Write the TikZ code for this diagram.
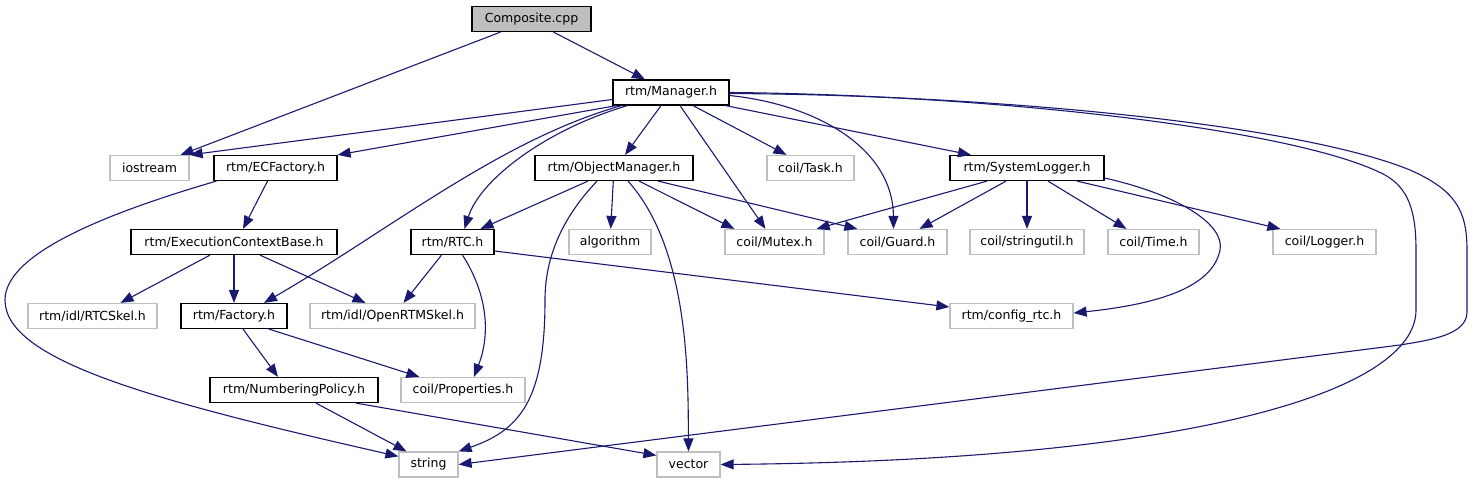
\documentclass[tikz,border=0pt]{standalone}
\usepackage{fontspec}
\setmainfont{DejaVu Sans}
\usetikzlibrary{arrows.meta}
\definecolor{incblue}{HTML}{191970}
\definecolor{extgray}{HTML}{BFBFBF}

\begin{document}
\begin{tikzpicture}[x=1pt,y=-1pt,
	file/.style={draw=black,line width=1.2pt,minimum height=25pt,inner sep=0pt,font=\fontsize{12.5}{14}\selectfont},
	ext/.style={file,draw=extgray},
	inc/.style={draw=incblue,line width=1.1pt,-{Triangle[length=13pt,width=10pt]}}]
	\useasboundingbox (0,0) rectangle (1473,485);
	\node[file,fill=extgray,minimum width=119pt] (comp) at (531.5,19) {Composite.cpp};
	\node[file,minimum width=116pt] (mgr) at (671,92.5) {rtm/Manager.h};
	\node[ext,minimum width=79pt] (ios) at (149.5,168) {iostream};
	\node[file,minimum width=123pt] (ecf) at (275.5,168) {rtm/ECFactory.h};
	\node[file,minimum width=158pt] (objm) at (614,168) {rtm/ObjectManager.h};
	\node[ext,minimum width=87pt] (task) at (810.5,168) {coil/Task.h};
	\node[file,minimum width=154pt] (slog) at (1027,168) {rtm/SystemLogger.h};
	\node[file,minimum width=206pt] (ecb) at (234,242) {rtm/ExecutionContextBase.h};
	\node[file,minimum width=83pt] (rtc) at (452.5,242) {rtm/RTC.h};
	\node[ext,minimum width=82pt] (algo) at (610,242) {algorithm};
	\node[ext,minimum width=99pt] (mutex) at (774.5,242) {coil/Mutex.h};
	\node[ext,minimum width=99pt] (guard) at (897.5,242) {coil/Guard.h};
	\node[ext,minimum width=114pt] (sutil) at (1027,242) {coil/stringutil.h};
	\node[ext,minimum width=91pt] (time) at (1153.5,242) {coil/Time.h};
	\node[ext,minimum width=103pt] (logger) at (1324.5,242) {coil/Logger.h};
	\node[ext,minimum width=129pt] (rtcskel) at (92.5,316) {rtm/idl/RTCSkel.h};
	\node[file,minimum width=106pt] (fact) at (234,316) {rtm/Factory.h};
	\node[ext,minimum width=165pt] (ortm) at (392.5,316) {rtm/idl/OpenRTMSkel.h};
	\node[ext,minimum width=123pt] (cfg) at (1011.5,316) {rtm/config\_rtc.h};
	\node[file,minimum width=168pt] (npol) at (294,390) {rtm/NumberingPolicy.h};
	\node[ext,minimum width=124pt] (props) at (463,390) {coil/Properties.h};
	\node[ext,minimum width=59pt] (str) at (428.5,464.5) {string};
	\node[ext,minimum width=63pt] (vec) at (688.5,464.5) {vector};
	\draw[inc] ([xshift=-31pt]comp.south) -- ([xshift=-9pt]ios.north east);
	\draw[inc] ([xshift=22pt]comp.south) -- ([xshift=-26pt]mgr.north);
	\draw[inc] ([yshift=-7pt]mgr.west) -- (ios.north east);
	\draw[inc] ([xshift=4pt]mgr.south west) -- (ecf.north east);
	\draw[inc] ([xshift=-10pt]mgr.south) -- ([xshift=11pt]objm.north);
	\draw[inc] ([xshift=22pt]mgr.south) -- ([xshift=-24pt]task.north);
	\draw[inc] ([xshift=-4pt]mgr.south east) -- ([xshift=-56pt]slog.north);
	\draw[inc] ([xshift=15pt]mgr.south west) .. controls (545,130) and (480,180) .. ([xshift=12pt]rtc.north);
	\draw[inc] ([xshift=9pt]mgr.south west) .. controls (500,140) and (390,230) .. ([xshift=30pt]fact.north);
	\draw[inc] ([xshift=9pt]mgr.south) -- ([xshift=-9pt]mutex.north);
	\draw[inc] ([yshift=-3pt]mgr.east) .. controls (820,105) and (893,150) .. ([xshift=-4pt]guard.north);
	\draw[inc] ([yshift=-1pt]mgr.east) .. controls (1000,95) and (1300,125) .. (1410,170) .. controls (1455,190) and (1467,210) .. (1467,250) -- (1467,312) .. controls (1467,335) and (1430,340) .. (1400,345) -- (str.east);
	\draw[inc] (mgr.east) .. controls (1000,95) and (1300,130) .. (1385,175) .. controls (1408,188) and (1416,210) .. (1416,250) -- (1416,310) .. controls (1416,390) and (1200,460) .. (vec.east);
	\draw[inc] ([xshift=-26pt]objm.south) -- ([xshift=28pt]rtc.north);
	\draw[inc] (objm) -- (algo);
	\draw[inc] ([xshift=25pt]objm.south) -- ([xshift=10pt]mutex.north west);
	\draw[inc] ([xshift=44pt]objm.south) -- ([xshift=10pt]guard.north west);
	\draw[inc] ([xshift=-17pt]objm.south) .. controls (560,220) and (545,260) .. (545,300) .. controls (545,400) and (520,430) .. (str.north east);
	\draw[inc] ([xshift=14pt]objm.south) .. controls (690,250) and (688,380) .. (vec.north);
	\draw[inc] ([xshift=3pt]ecf.south west) .. controls (100,215) and (5,255) .. (5,300) .. controls (5,360) and (150,400) .. ([yshift=-5pt]str.north west);
	\draw[inc] ([xshift=-8pt]ecf.south) -- ([xshift=9pt]ecb.north);
	\draw[inc] ([xshift=-24pt]ecb.south) -- ([xshift=28pt]rtcskel.north);
	\draw[inc] (ecb) -- (fact);
	\draw[inc] ([xshift=26pt]ecb.south) -- ([xshift=-27pt]ortm.north);
	\draw[inc] ([xshift=-11pt]rtc.south) -- ([xshift=11pt]ortm.north);
	\draw[inc] ([xshift=10pt]rtc.south) .. controls (485,290) and (492,330) .. ([xshift=11pt]props.north);
	\draw[inc] ([yshift=-9pt]rtc.east) -- ([yshift=9pt]cfg.west);
	\draw[inc] ([xshift=-40pt]slog.south) -- ([xshift=-8pt]mutex.north east);
	\draw[inc] ([xshift=-21pt]slog.south) -- ([xshift=22pt]guard.north);
	\draw[inc] (slog) -- (sutil);
	\draw[inc] ([xshift=21pt]slog.south) -- ([xshift=-27pt]time.north);
	\draw[inc] ([xshift=50pt]slog.south) -- ([xshift=8pt]logger.north west);
	\draw[inc] ([yshift=-10pt]slog.east) .. controls (1180,195) and (1225,225) .. (1220,250) .. controls (1212,290) and (1150,305) .. ([yshift=3pt]cfg.east);
	\draw[inc] ([xshift=9pt]fact.south) -- ([xshift=-16pt]npol.north);
	\draw[inc] ([xshift=35pt]fact.south) -- ([xshift=19pt]props.north west);
	\draw[inc] ([xshift=22pt]npol.south) -- ([xshift=-22pt]str.north);
	\draw[inc] ([xshift=62pt]npol.south) -- ([yshift=-4pt]vec.north west);
\end{tikzpicture}
\end{document}
